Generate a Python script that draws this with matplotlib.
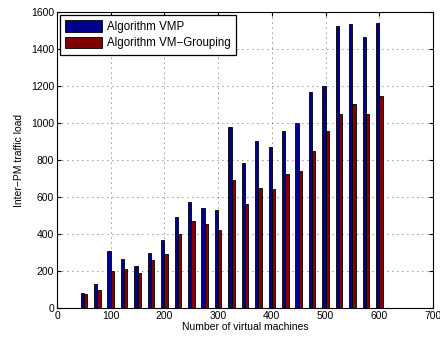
import matplotlib
matplotlib.use("Agg")
import matplotlib.pyplot as plt
import numpy as np

vms = [50, 75, 100, 125, 150, 175, 200, 225, 250, 275, 300, 325, 350, 375, 400,
       425, 450, 475, 500, 525, 550, 575, 600]
vmp = [83, 130, 308, 265, 227, 299, 367, 494, 575, 540, 528, 980, 785, 905, 869,
       958, 999, 1168, 1200, 1522, 1537, 1465, 1542]
grouping = [74, 99, 200, 209, 189, 261, 294, 398, 472, 454, 420, 690, 563, 648, 641,
            724, 742, 846, 958, 1049, 1103, 1049, 1144]
labels = ["Algorithm VMP", "Algorithm VM\u2212Grouping"]

plt.rcParams['font.family'] = ['Liberation Sans', 'DejaVu Sans']

fig = plt.figure(figsize=(4.4, 3.4), dpi=100)
ax = fig.add_axes([57/440, 32/340, 376/440, 296/340])

x = np.array(vms, dtype=float)
w = 6.0
ax.bar(x - w/2, vmp, width=w, color='#00008F', edgecolor='black', linewidth=0.6, label=labels[0], zorder=3)
ax.bar(x + w/2, grouping, width=w, color='#800000', edgecolor='black', linewidth=0.6, label=labels[1], zorder=3)

ax.set_xlim(0, 700)
ax.set_ylim(0, 1600)
ax.set_xticks(np.arange(0, 701, 100))
ax.set_yticks(np.arange(0, 1601, 200))
ax.tick_params(direction='in', labelsize=7.5, length=3, top=True, right=True, pad=2)
ax.grid(True, linestyle=(0, (1, 5)), color='black', linewidth=0.6, alpha=0.8, zorder=0)
for s in ax.spines.values():
    s.set_linewidth(0.8)

ax.set_xlabel("Number of virtual machines", fontsize=7.5, labelpad=1)
ax.set_ylabel("Inter\u2212PM traffic load", fontsize=7.5, labelpad=5)

leg = ax.legend(loc='upper left', fontsize=8.3, fancybox=False, edgecolor='black',
                framealpha=1, borderaxespad=0.25, handlelength=3.2, handleheight=1.15,
                borderpad=0.45, labelspacing=0.35, handletextpad=0.45)
leg.get_frame().set_linewidth(0.9)

fig.savefig("out.png", dpi=100)
